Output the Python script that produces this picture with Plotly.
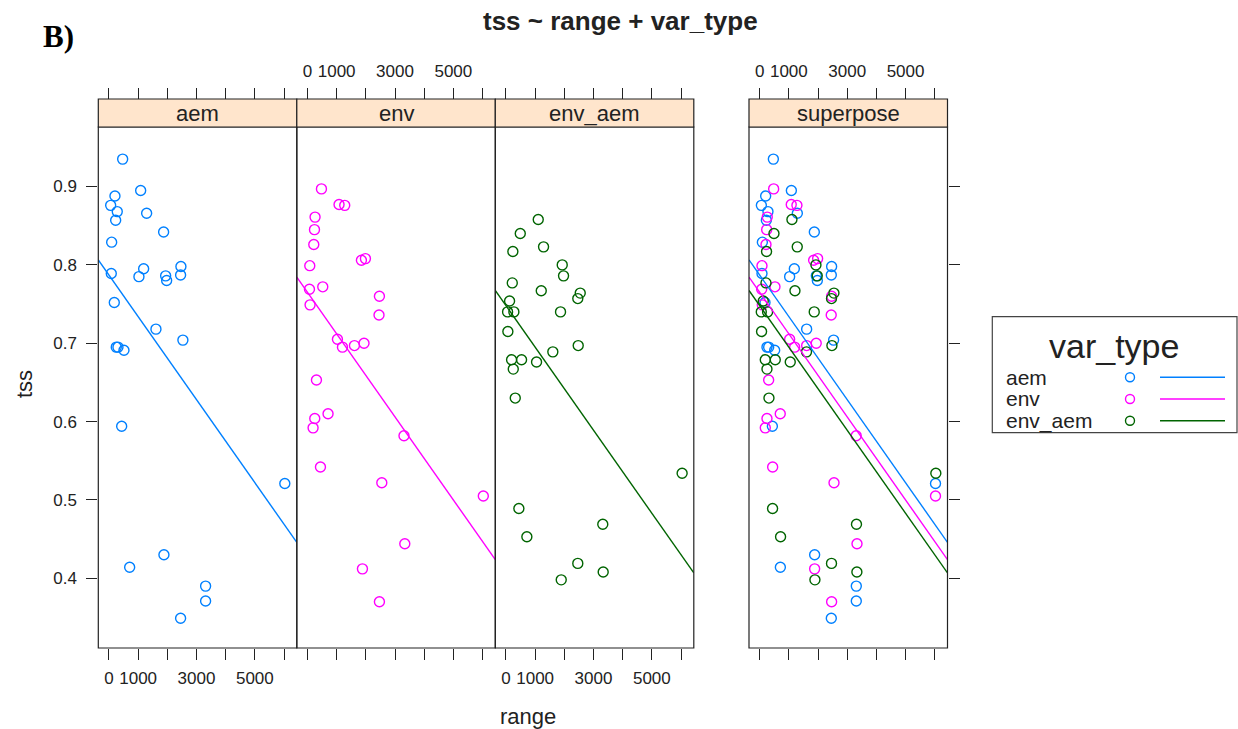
import plotly.graph_objects as go

W, H = 1238, 729

# ---------------- data ----------------
var_types = ["aem", "env", "env_aem"]
panel_names = ["aem", "env", "env_aem", "superpose"]

aem_range = [469, 1086, 205, 58, 284, 1291, 229, 1873, 92, 2466, 1188, 79, 1027, 1942,
             1976, 2455, 182, 1610, 2534, 250, 308, 514, 435, 6027, 1884, 709, 3312, 3312, 2455]
aem_tss = [0.935, 0.895, 0.888, 0.876, 0.868, 0.866, 0.857, 0.842, 0.829, 0.798, 0.795, 0.789,
           0.785, 0.786, 0.780, 0.787, 0.752, 0.718, 0.704, 0.695, 0.695, 0.691, 0.594, 0.521,
           0.430, 0.414, 0.390, 0.371, 0.349]

env_range = [479, 1082, 1277, 260, 240, 216, 79, 1849, 1986, 68, 524, 89, 2466, 2452, 1027,
             1199, 1610, 1938, 308, 250, 705, 192, 3308, 445, 2548, 6027, 3336, 1884, 2466]
env_tss = [0.897, 0.877, 0.876, 0.861, 0.845, 0.826, 0.799, 0.806, 0.808, 0.769, 0.772, 0.749,
           0.760, 0.736, 0.705, 0.695, 0.697, 0.700, 0.653, 0.604, 0.610, 0.592, 0.582, 0.542,
           0.522, 0.505, 0.444, 0.412, 0.370]

env_aem_range = [1106, 490, 1288, 236, 1928, 1973, 216, 1209, 2545, 2462, 123, 55, 271, 1870,
                 65, 2476, 1606, 192, 534, 1048, 250, 318, 6038, 442, 3318, 716, 2462, 3332, 1894]
env_aem_tss = [0.858, 0.840, 0.823, 0.817, 0.800, 0.786, 0.777, 0.767, 0.764, 0.757, 0.754,
               0.740, 0.740, 0.740, 0.715, 0.697, 0.689, 0.679, 0.679, 0.676, 0.667, 0.630,
               0.534, 0.489, 0.469, 0.453, 0.419, 0.408, 0.398]

# fitted model tss ~ range + var_type (common slope, per-type intercept)
fit_intercept = [0.787, 0.765, 0.748]
fit_slope = -5.3e-5

x_tick_vals = [0, 1000, 2000, 3000, 4000, 5000, 6000]
x_tick_text = ["0", "1000", "", "3000", "", "5000", ""]
y_tick_vals = [0.4, 0.5, 0.6, 0.7, 0.8, 0.9]
x_lim = [-366, 6438]
y_lim = [0.311, 0.976]

# ---------------- styling ----------------
colors = ["#0080ff", "#ff00ff", "#006400"]
FONT = "Liberation Sans, Arial, sans-serif"
INK = "#222222"
STRIP_FILL = "#ffe5cc"

series = {
    "aem": (aem_range, aem_tss),
    "env": (env_range, env_tss),
    "env_aem": (env_aem_range, env_aem_tss),
}


def px_x(p):
    return p / W


def px_y(p):
    return 1 - p / H


panel_left = [98.3, 296.8, 495.3, 749.0]
panel_w = 198.5
plot_top, plot_bottom = 127.0, 648.0
strip_top = 99.0

fig = go.Figure()

# data points and fitted lines
for i, pname in enumerate(panel_names):
    xa = "x" if i == 0 else f"x{i + 1}"
    groups = var_types if pname == "superpose" else [pname]
    for g in groups:
        k = var_types.index(g)
        xs, ys = series[g]
        fig.add_trace(go.Scatter(
            x=xs, y=ys, mode="markers", xaxis=xa, yaxis="y",
            marker=dict(symbol="circle-open", size=10, color=colors[k],
                        line=dict(width=1.4, color=colors[k])),
            showlegend=False, hoverinfo="skip"))
    for g in groups:
        k = var_types.index(g)
        lx = list(x_lim)
        ly = [fit_intercept[k] + fit_slope * v for v in lx]
        fig.add_trace(go.Scatter(
            x=lx, y=ly, mode="lines", xaxis=xa, yaxis="y",
            line=dict(color=colors[k], width=1.4),
            showlegend=False, hoverinfo="skip"))

layout = dict(
    width=W, height=H,
    margin=dict(l=0, r=0, t=0, b=0),
    paper_bgcolor="white", plot_bgcolor="rgba(0,0,0,0)",
    font=dict(family=FONT, color=INK),
    showlegend=False,
)

tick_common = dict(
    range=x_lim, tickmode="array", tickvals=x_tick_vals,
    ticks="outside", ticklen=11, tickwidth=1, tickcolor=INK,
    showgrid=False, zeroline=False, showline=False,
    tickfont=dict(size=17, family=FONT, color=INK),
    fixedrange=True,
)

bottom_labels = [True, False, True, False]
top_labels = [False, True, False, True]

for i in range(4):
    name = "xaxis" if i == 0 else f"xaxis{i + 1}"
    dom = [px_x(panel_left[i]), px_x(panel_left[i] + panel_w)]
    ax = dict(tick_common)
    ax.update(domain=dom, anchor="y", side="bottom",
              ticktext=x_tick_text if bottom_labels[i] else [""] * len(x_tick_vals),
              ticklabelstandoff=4)
    layout[name] = ax
    # top axis sitting above the strip
    top = dict(tick_common)
    top.update(overlaying="x" if i == 0 else f"x{i + 1}", anchor="free",
               position=px_y(strip_top), side="top",
               ticktext=x_tick_text if top_labels[i] else [""] * len(x_tick_vals),
               ticklabelstandoff=4)
    layout[f"xaxis{i + 5}"] = top
    fig.add_trace(go.Scatter(x=[None], y=[None], xaxis=f"x{i + 5}", yaxis="y",
                             showlegend=False, hoverinfo="skip"))

y_common = dict(
    range=y_lim, domain=[px_y(plot_bottom), px_y(plot_top)],
    tickmode="array", tickvals=y_tick_vals,
    ticks="outside", ticklen=11, tickwidth=1, tickcolor=INK,
    showgrid=False, zeroline=False, showline=False,
    tickfont=dict(size=17, family=FONT, color=INK), fixedrange=True,
)
layout["yaxis"] = dict(y_common, anchor="x", side="left", ticklabelstandoff=6,
                       ticktext=[f"{v:.1f}" for v in y_tick_vals])
layout["yaxis2"] = dict(y_common, anchor="x4", side="right", overlaying="y",
                        ticktext=[""] * len(y_tick_vals))
fig.add_trace(go.Scatter(x=[None], y=[None], xaxis="x4", yaxis="y2",
                         showlegend=False, hoverinfo="skip"))

# pixel-space overlay used for the key
layout["xaxis9"] = dict(domain=[0, 1], range=[0, W], visible=False, fixedrange=True,
                        anchor="y3")
layout["yaxis3"] = dict(domain=[0, 1], range=[H, 0], visible=False, fixedrange=True,
                        anchor="x9")

fig.update_layout(**layout)

shapes = []
annotations = []
for i, pname in enumerate(panel_names):
    x0, x1 = px_x(panel_left[i]), px_x(panel_left[i] + panel_w)
    shapes.append(dict(type="rect", xref="paper", yref="paper", x0=x0, x1=x1,
                       y0=px_y(plot_bottom), y1=px_y(plot_top),
                       line=dict(color=INK, width=1.2), fillcolor="rgba(0,0,0,0)",
                       layer="above"))
    shapes.append(dict(type="rect", xref="paper", yref="paper", x0=x0, x1=x1,
                       y0=px_y(plot_top), y1=px_y(strip_top),
                       line=dict(color=INK, width=1.2), fillcolor=STRIP_FILL,
                       layer="above"))
    annotations.append(dict(text=pname, xref="paper", yref="paper",
                            x=(x0 + x1) / 2, y=px_y((plot_top + strip_top) / 2),
                            xanchor="center", yanchor="middle", showarrow=False,
                            font=dict(size=22, family=FONT, color=INK)))

# title, panel tag, axis titles
annotations += [
    dict(text="<b>tss ~ range + var_type</b>", xref="paper", yref="paper",
         x=px_x(621), y=px_y(21), xanchor="center", yanchor="middle", showarrow=False,
         font=dict(size=26, family=FONT, color=INK)),
    dict(text="<b>B)</b>", xref="paper", yref="paper",
         x=px_x(58), y=px_y(36), xanchor="center", yanchor="middle", showarrow=False,
         font=dict(size=31, family="Liberation Serif, Times New Roman, serif",
                   color="black")),
    dict(text="range", xref="paper", yref="paper",
         x=px_x(528), y=px_y(716), xanchor="center", yanchor="middle", showarrow=False,
         font=dict(size=22, family=FONT, color=INK)),
    dict(text="tss", xref="paper", yref="paper", textangle=-90,
         x=px_x(24), y=px_y(384), xanchor="center", yanchor="middle", showarrow=False,
         font=dict(size=22, family=FONT, color=INK)),
]

# key
key_box = (992.3, 316.7, 1237.0, 432.7)
shapes.append(dict(type="rect", xref="paper", yref="paper",
                   x0=px_x(key_box[0]), x1=px_x(key_box[2]),
                   y0=px_y(key_box[3]), y1=px_y(key_box[1]),
                   line=dict(color="#444444", width=1.2), fillcolor="white",
                   layer="below"))
annotations.append(dict(text="var_type", xref="paper", yref="paper",
                        x=px_x(1114), y=px_y(346), xanchor="center", yanchor="middle",
                        showarrow=False, font=dict(size=34, family=FONT, color=INK)))
key_rows = [377.3, 399.0, 420.7]
for k, g in enumerate(var_types):
    annotations.append(dict(text=g, xref="paper", yref="paper",
                            x=px_x(1004), y=px_y(key_rows[k]), xanchor="left",
                            yanchor="middle", showarrow=False,
                            font=dict(size=21, family=FONT, color=INK)))
    fig.add_trace(go.Scatter(x=[1130], y=[key_rows[k]], xaxis="x9", yaxis="y3",
                             mode="markers",
                             marker=dict(symbol="circle-open", size=9, color=colors[k],
                                         line=dict(width=1.4, color=colors[k])),
                             showlegend=False, hoverinfo="skip"))
    fig.add_trace(go.Scatter(x=[1160, 1225], y=[key_rows[k]] * 2, xaxis="x9", yaxis="y3",
                             mode="lines", line=dict(color=colors[k], width=1.4),
                             showlegend=False, hoverinfo="skip"))

fig.update_layout(shapes=shapes, annotations=annotations)
fig.write_html("out.html")
